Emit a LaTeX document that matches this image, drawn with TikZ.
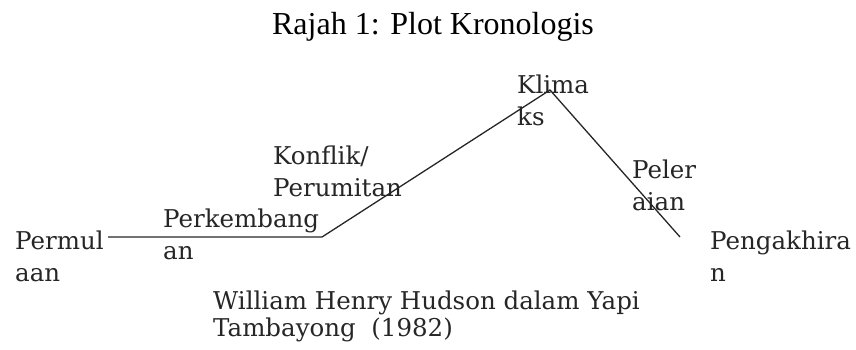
\documentclass[tikz,border=0pt]{standalone}
\usepackage{fontspec}
\setmainfont{DejaVu Serif}
\newfontfamily\titlefont{Liberation Serif}
\begin{document}
\begin{tikzpicture}[x=1pt,y=-1pt,
  lbl/.style={anchor=base west,inner sep=0pt,align=left,
    font=\fontsize{24.5}{32}\selectfont, text=black!85},
  plotline/.style={draw=black!85,line width=1.3pt}]
\useasboundingbox (0,0) rectangle (856,349);
\node[anchor=base,inner sep=0pt,font=\titlefont\fontsize{32}{36}\selectfont] (title) at (433,34) {Rajah 1: Plot Kronologis};
\coordinate (p0) at (108,237);
\coordinate (p1) at (322,237);
\coordinate (p2) at (550,90);
\coordinate (p3) at (680,237);
\draw[plotline] (p0) -- (p1) -- (p2) -- (p3);
\node[lbl] (permul) at (15,281) {Permul\\aan};
\node[lbl] (perk) at (163,259) {Perkembang\\an};
\node[lbl] (konf) at (273,196) {Konflik/\\Perumitan};
\node[lbl] (klim) at (517,125) {Klima\\ks};
\node[lbl] (peler) at (632,210) {Peler\\aian};
\node[lbl] (peng) at (710,281) {Pengakhira\\n};
\node[lbl,font=\fontsize{24.5}{27}\selectfont] (src) at (213,336) {William Henry Hudson dalam Yapi\\Tambayong\ \ (1982)};
\end{tikzpicture}
\end{document}
